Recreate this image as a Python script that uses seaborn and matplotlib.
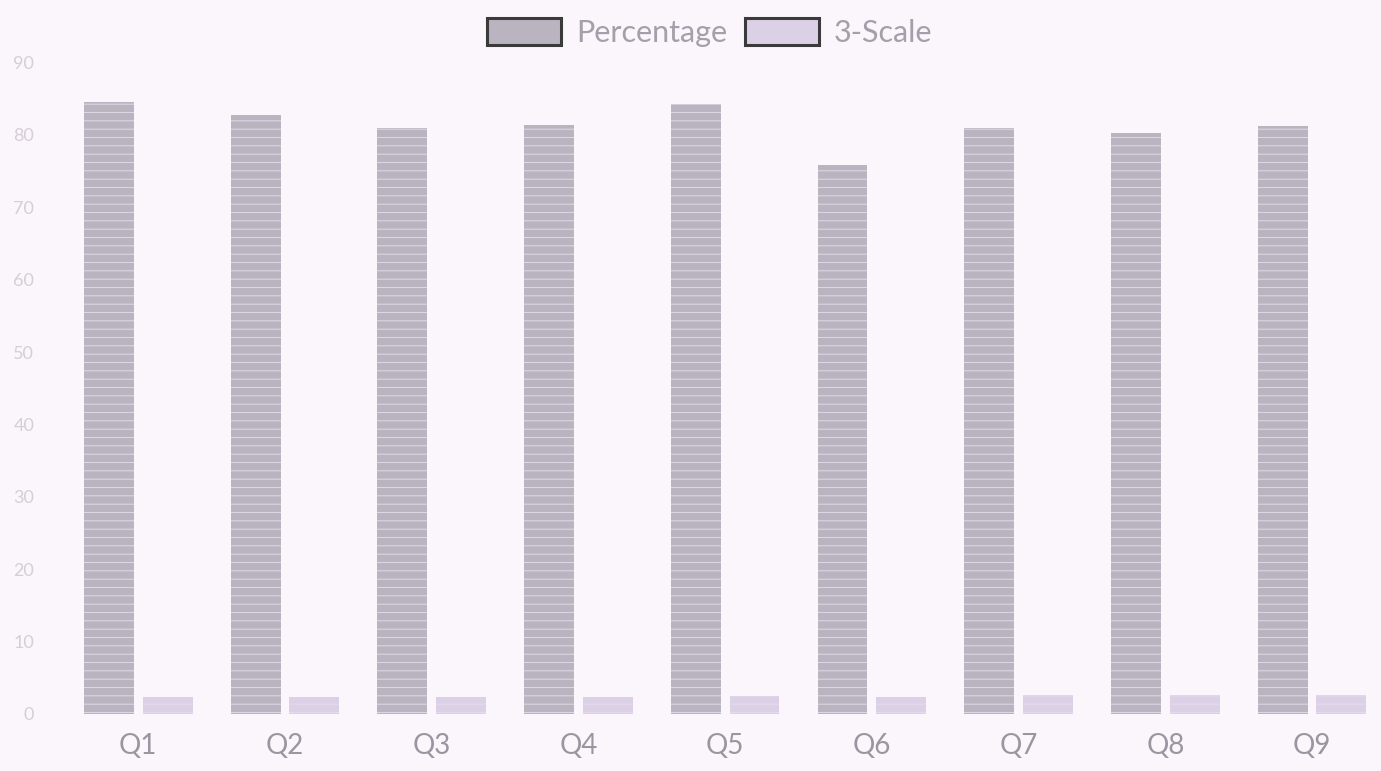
import matplotlib
matplotlib.use("Agg")
import matplotlib.pyplot as plt
import seaborn as sns
import pandas as pd

questions = ["Q1", "Q2", "Q3", "Q4", "Q5", "Q6", "Q7", "Q8", "Q9"]
percentage = [84.6, 82.8, 80.9, 81.4, 84.2, 75.8, 81.0, 80.3, 81.2]
three_scale = [2.3, 2.3, 2.4, 2.4, 2.5, 2.3, 2.6, 2.6, 2.6]
series_names = ["Percentage", "3-Scale"]
y_ticks = [0, 10, 20, 30, 40, 50, 60, 70, 80, 90]

df = pd.DataFrame({
    "Question": questions * 2,
    "Value": percentage + three_scale,
    "Series": [series_names[0]] * len(questions) + [series_names[1]] * len(questions),
})

sns.set_theme(style="white")
plt.rcParams["font.family"] = ["Lato", "DejaVu Sans"]
plt.rcParams["hatch.linewidth"] = 0.6

bg = "#fbf6fb"
fig = plt.figure(figsize=(13.81, 7.71), dpi=100, facecolor=bg)
ax = fig.add_axes([0.047, 0.074, 0.953, 0.845], facecolor=bg)

palette = {"Percentage": "#bab4c0", "3-Scale": "#dcd0e6"}
sns.barplot(data=df, x="Question", y="Value", hue="Series", palette=palette,
            width=0.8, gap=0.15, ax=ax, saturation=1, linewidth=0)

for p in ax.patches:
    p.set_hatch("--")
    p.set_edgecolor("#e8dcef")
    p.set_linewidth(0)

ax.set_ylim(0, 90)
ax.set_xlim(-0.5, 8.47)
ax.set_yticks(y_ticks)
ax.set_yticklabels([str(t) for t in y_ticks], color="#d6cdd8", fontsize=13)
ax.tick_params(axis="x", labelsize=20, labelcolor="#9a95a0", length=0, pad=14)
ax.tick_params(axis="y", length=0, pad=22)
ax.set_xlabel("")
ax.set_ylabel("")
for s in ax.spines.values():
    s.set_visible(False)
ax.grid(False)

leg = ax.legend(loc="lower center", bbox_to_anchor=(0.49, 1.0), ncol=2, frameon=False,
                fontsize=22, handlelength=2.4, handleheight=1.0, columnspacing=0.6,
                handletextpad=0.5, borderaxespad=0.1)
for h in leg.legend_handles:
    h.set_edgecolor("#3a3a3a")
    h.set_linewidth(2.2)
    h.set_hatch("")
for t in leg.get_texts():
    t.set_color("#a59eab")

fig.savefig("out.png", dpi=100, facecolor=bg)
